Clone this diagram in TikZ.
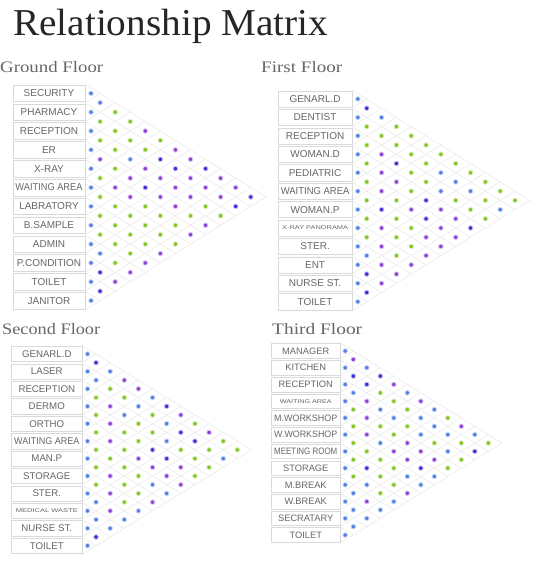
\documentclass[tikz,border=0pt]{standalone}
\usepackage{fontspec}
\usepackage{graphicx}
\newfontfamily\lblf{Liberation Sans}
\newfontfamily\ttlf{Liberation Serif}
\definecolor{cb}{HTML}{4F7FE3}
\definecolor{cd}{HTML}{3A2ED6}
\definecolor{cp}{HTML}{8C3FD8}
\definecolor{cg}{HTML}{84C420}
\newlength\lblw
\newcommand\fitto[2]{\settowidth\lblw{#2}\ifdim\lblw>#1\relax\resizebox{#1}{\height}{#2}\else#2\fi}
\newcommand\smlbl[2]{\resizebox{#1pt}{\height}{\fontsize{5.5}{6}\selectfont #2}}
\newcommand\wide[2]{\resizebox{#1pt}{\height}{#2}}
\tikzset{
  gridline/.style={draw=gray!18, line width=0.5pt},
  lbox/.style={draw=gray!30, fill=white, inner sep=0pt, text=black!60, line width=0.5pt},
  dot/.style={circle, inner sep=0pt, minimum size=4.6pt, line width=0.8pt},
  floortitle/.style={anchor=base west, inner sep=0pt, text=black!60, font=\ttlf\fontsize{16}{16}\selectfont},
}
% #1 id, #2 xe, #3 y0, #4 h, #5 dx, #6 boxleft, #7 labels, #8 colours, #9 font size
\newcommand\floorpanel[9]{%
  \foreach \j in {0,...,12}{
    \pgfmathsetmacro\ly{#3-#4/2+\j*#4}
    \pgfmathsetmacro\ax{#2+(12-\j)*#5}
    \pgfmathsetmacro\ay{\ly+(12-\j)*#4/2}
    \pgfmathsetmacro\bx{#2+\j*#5}
    \pgfmathsetmacro\by{\ly-\j*#4/2}
    \draw[gridline] (#2,\ly) -- (\ax,\ay);
    \draw[gridline] (#2,\ly) -- (\bx,\by);
  }
  \pgfmathsetmacro\bw{#2-#6}
  \pgfmathsetmacro\cx{(#2+#6)/2}
  \pgfmathsetmacro\bh{0.88*#4}
  \pgfmathsetmacro\mw{\bw-5}
  \foreach \lab [count=\m from 0] in {#7}{
    \pgfmathsetmacro\yy{#3+\m*#4}
    \node[lbox, minimum width=\bw pt, minimum height=\bh pt, font=\lblf\fontsize{#9}{#9}\selectfont] (#1-L\m) at (\cx,\yy) {\fitto{\mw pt}{\lab}};
  }
  \foreach \col [count=\k from 0] in {#8}{
    \foreach \c [count=\m from 0] in \col {
      \pgfmathsetmacro\xx{\k==0 ? #2+0.4*#5 : #2+\k*#5}
      \pgfmathsetmacro\yy{#3+(\m+\k/2)*#4}
      \node[dot, fill=c\c, draw=c\c!30] (#1-D\k-\m) at (\xx,\yy) {};
    }
  }
}
\begin{document}
\begin{tikzpicture}[x={(1pt,0)}, y={(0,-1pt)}]
\useasboundingbox (0,0) rectangle (541,562);
\fill[white] (0,0) rectangle (541,562);
\node[anchor=base west, inner sep=0pt, text=black!85, font=\ttlf\fontsize{38}{38}\selectfont] (title) at (13,35.5) {\wide{315}{Relationship Matrix}};
\node[floortitle] (gf) at (0,72) {\wide{103}{Ground Floor}};
\node[floortitle] (ff) at (261,72) {\wide{81}{First Floor}};
\node[floortitle] (sf) at (2,334) {\wide{98}{Second Floor}};
\node[floortitle] (tf) at (272,334) {\wide{90}{Third Floor}};

\floorpanel{g}{85}{93.3}{18.85}{15.07}{13}
 {SECURITY,PHARMACY,RECEPTION,ER,X-RAY,WAITING AREA,LABRATORY,B.SAMPLE,ADMIN,P.CONDITION,TOILET,JANITOR}
 {{b,b,b,b,b,b,b,b,b,b,b,b},
  {b,g,g,p,g,g,g,g,b,d,d},
  {g,g,g,g,p,g,g,g,g,p},
  {g,g,b,p,p,g,g,g,p},
  {p,g,p,d,g,g,g,p},
  {g,d,p,p,g,g,p},
  {p,d,p,p,g,g},
  {p,p,p,g,p},
  {d,p,g,p},
  {p,p,g},
  {p,d},
  {d}}{10}

\floorpanel{f}{351.9}{99}{18.43}{14.83}{278.3}
 {GENARL.D,DENTIST,RECEPTION,WOMAN.D,PEDIATRIC,WAITING AREA,WOMAN.P,{\smlbl{66}{X-RAY PANORAMA}},STER.,ENT,NURSE ST.,TOILET}
 {{b,b,b,b,b,b,b,b,b,b,b,b},
  {d,g,g,g,g,g,g,g,b,d,d},
  {b,g,p,p,p,d,p,p,p,p},
  {g,g,d,p,g,g,g,g,p},
  {g,g,g,g,p,g,g,p},
  {g,g,g,d,d,p,p},
  {g,b,b,p,p,p},
  {g,b,g,p,p},
  {g,b,g,d},
  {g,g,g},
  {g,b},
  {g}}{10}

\floorpanel{s}{81.9}{354}{17.43}{14.13}{11.7}
 {GENARL.D,LASER,RECEPTION,DERMO,ORTHO,WAITING AREA,MAN.P,STORAGE,STER.,{\smlbl{62}{MEDICAL WASTE}},NURSE ST.,TOILET}
 {{b,b,b,b,b,b,b,b,b,b,b,b},
  {d,b,g,g,g,g,g,g,b,b,d},
  {b,g,p,p,p,g,p,p,p,b},
  {p,g,b,g,g,g,g,g,b},
  {p,b,g,g,p,g,g,b},
  {b,g,g,d,p,b,p},
  {d,b,b,d,p,b},
  {p,d,g,p,p},
  {g,d,g,g},
  {p,g,g},
  {g,b},
  {g}}{9.7}

\floorpanel{t}{339.8}{351}{16.73}{13.5}{271.7}
 {MANAGER,KITCHEN,RECEPTION,{\smlbl{52}{WAITING AREA}},M.WORKSHOP,W.WORKSHOP,MEETING ROOM,STORAGE,M.BREAK,W.BREAK,SECRATARY,TOILET}
 {{b,b,b,b,b,b,b,b,b,b,b,b},
  {p,d,b,g,g,g,g,g,b,b,b},
  {b,d,p,p,p,g,d,b,p,b},
  {d,g,b,g,b,g,g,g,b},
  {p,g,b,g,p,g,g,b},
  {b,g,g,p,p,b,p},
  {p,b,b,p,d,b},
  {b,b,g,p,b},
  {g,b,b,g},
  {p,g,g},
  {b,d},
  {g}}{9.3}
\end{tikzpicture}
\end{document}
